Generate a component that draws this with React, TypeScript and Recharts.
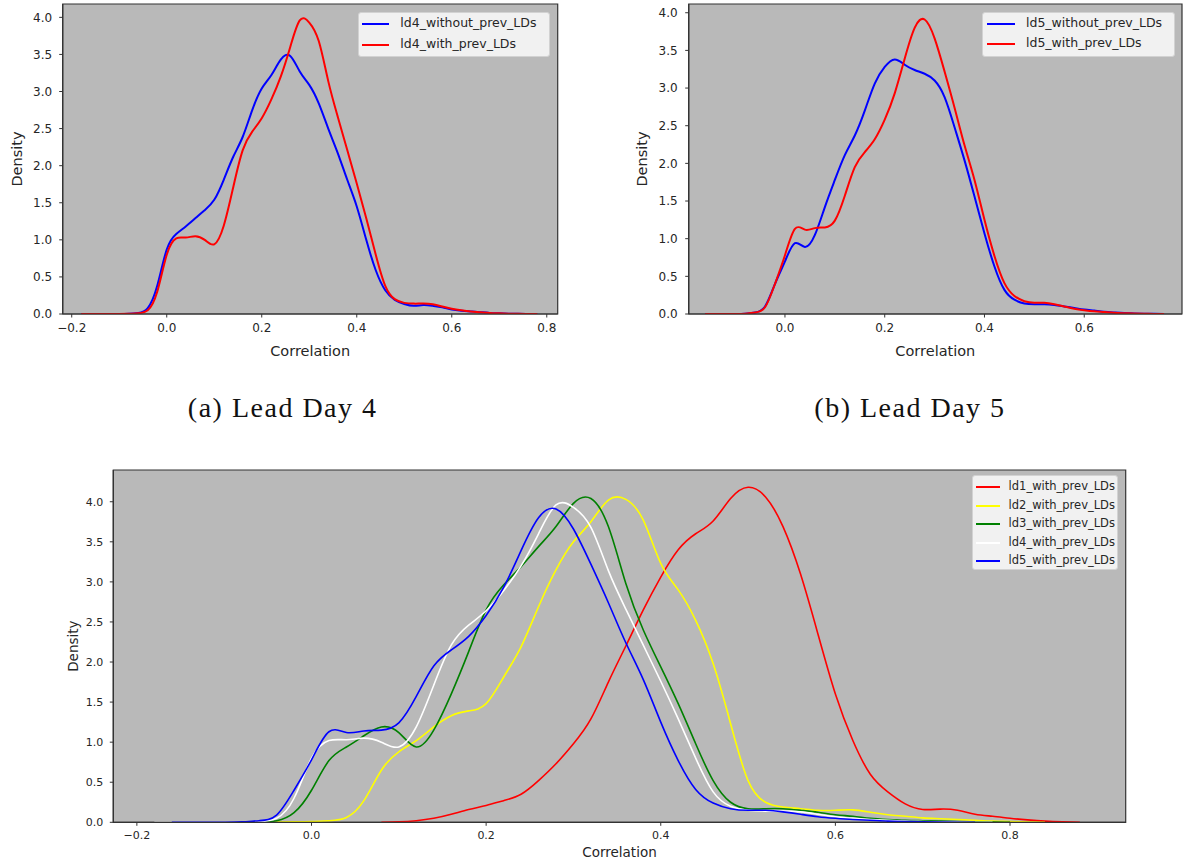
import { LineChart, Line, XAxis, YAxis, CartesianGrid, ReferenceArea, Legend } from "recharts";

// shared correlation grid (x values of the KDE curves)
const corr = [
	-0.18, -0.16, -0.14, -0.12, -0.1, -0.08, -0.06, -0.04, -0.02, 0.0, 0.02, 0.04, 0.06, 0.08, 0.1, 0.12, 0.14, 0.16,
	0.18, 0.2, 0.22, 0.24, 0.26, 0.28, 0.3, 0.32, 0.34, 0.36, 0.38, 0.4, 0.42, 0.44, 0.46, 0.48, 0.5, 0.52, 0.54, 0.56,
	0.58, 0.6, 0.62, 0.64, 0.66, 0.68, 0.7, 0.72, 0.74, 0.76, 0.78, 0.8, 0.82, 0.84, 0.86, 0.88,
];

const ld4Without = [
	0, 0, 0, 0, 0, 0.003, 0.015, 0.08, 0.38, 0.87, 1.08, 1.18, 1.29, 1.4, 1.54, 1.81, 2.12, 2.39,
	2.75, 3.04, 3.22, 3.43, 3.48, 3.27, 3.09, 2.84, 2.5, 2.17, 1.81, 1.45, 1.0, 0.59, 0.32, 0.19, 0.135, 0.11, 0.12, 0.11,
	0.09, 0.06, 0.045, 0.035, 0.025, 0.015, 0.01, 0.005, 0.002, 0.001, 0, null, null, null, null, null,
];
const ld4With = [
	0, 0, 0, 0, 0, 0.002, 0.01, 0.05, 0.3, 0.8, 1.02, 1.03, 1.05, 1.0, 0.94, 1.19, 1.71, 2.21,
	2.46, 2.64, 2.89, 3.2, 3.6, 3.96, 3.93, 3.68, 3.14, 2.66, 2.21, 1.76, 1.29, 0.8, 0.38, 0.2, 0.15, 0.14, 0.14, 0.13,
	0.1, 0.07, 0.05, 0.035, 0.025, 0.015, 0.01, 0.005, 0.002, 0.001, 0, null, null, null, null, null,
];
const ld5Without = [
	null, 0, 0, 0, 0.001, 0.005, 0.02, 0.1, 0.4, 0.7, 0.94, 0.89, 1.05, 1.42, 1.78, 2.11, 2.37, 2.7,
	3.06, 3.28, 3.38, 3.31, 3.24, 3.19, 3.1, 2.88, 2.48, 2.04, 1.56, 1.07, 0.63, 0.32, 0.19, 0.14, 0.13, 0.13, 0.12, 0.1,
	0.08, 0.06, 0.045, 0.03, 0.02, 0.012, 0.008, 0.004, 0.002, 0, null, null, null, null, null, null,
];
const ld5With = [
	null, 0, 0, 0, 0.001, 0.005, 0.02, 0.09, 0.4, 0.78, 1.13, 1.12, 1.14, 1.15, 1.24, 1.57, 1.95, 2.15,
	2.32, 2.58, 2.93, 3.39, 3.8, 3.91, 3.66, 3.22, 2.74, 2.24, 1.78, 1.25, 0.77, 0.41, 0.24, 0.17, 0.15, 0.15, 0.13, 0.1,
	0.07, 0.05, 0.035, 0.025, 0.015, 0.01, 0.006, 0.003, 0.001, 0, null, null, null, null, null, null,
];
const ld1With = [
	null, null, null, null, null, null, null, null, null, null, null, null, null, 0, 0.005, 0.02, 0.05, 0.1,
	0.16, 0.21, 0.27, 0.35, 0.52, 0.73, 0.98, 1.29, 1.75, 2.2, 2.65, 3.06, 3.4, 3.6, 3.76, 4.04, 4.18, 4.06, 3.69, 3.1,
	2.35, 1.6, 1.02, 0.6, 0.38, 0.23, 0.16, 0.165, 0.15, 0.1, 0.075, 0.05, 0.03, 0.015, 0.006, 0,
];
const ld2With = [
	null, null, null, null, null, null, 0, 0.002, 0.005, 0.01, 0.02, 0.06, 0.27, 0.65, 0.88, 1.02, 1.19, 1.33,
	1.39, 1.48, 1.81, 2.19, 2.69, 3.15, 3.5, 3.75, 4.02, 4.03, 3.77, 3.23, 2.9, 2.52, 1.98, 1.23, 0.52, 0.25, 0.19, 0.17,
	0.15, 0.15, 0.155, 0.125, 0.095, 0.075, 0.055, 0.045, 0.035, 0.025, 0.015, 0.01, 0.004, 0, null, null,
];
const ld3With = [
	null, null, null, null, null, 0, 0.005, 0.02, 0.12, 0.4, 0.77, 0.94, 1.08, 1.19, 1.12, 0.94, 1.15, 1.6,
	2.13, 2.65, 2.96, 3.19, 3.44, 3.69, 3.98, 4.04, 3.69, 2.98, 2.4, 1.94, 1.48, 0.98, 0.52, 0.25, 0.17, 0.17, 0.17, 0.15,
	0.125, 0.095, 0.075, 0.05, 0.035, 0.025, 0.02, 0.015, 0.01, 0.006, 0.003, 0, null, null, null, null,
];

const yTicks = [0, 0.5, 1, 1.5, 2, 2.5, 3, 3.5, 4];
const xTicksFull = [-0.2, 0, 0.2, 0.4, 0.6, 0.8];
const xTicksB = [0, 0.2, 0.4, 0.6];

const rows = corr.map((x, i) => ({
	x,
	ld4Without: ld4Without[i],
	ld4With: ld4With[i],
	ld5Without: ld5Without[i],
	ld5With: ld5With[i],
	ld1With: ld1With[i],
	ld2With: ld2With[i],
	ld3With: ld3With[i],
}));

const TEXT = "#262626";
const FRAME = "#333333";
const BG = "#b9b9b9";

const fmt = (v: number) => (v < 0 ? "\u2212" + Math.abs(v).toFixed(1) : v.toFixed(1));

type Series = { key: string; name: string; color: string };

type LegendCfg = {
	left: number;
	top: number;
	width: number;
	height: number;
	firstY: number;
	gap: number;
	handleLeft: number;
	handleLen: number;
	textGap: number;
	fontSize: number;
};

type PanelProps = {
	left: number;
	top: number;
	width: number;
	height: number;
	margin: { top: number; right: number; bottom: number; left: number };
	yWidth: number;
	xHeight: number;
	xDomain: [number, number];
	yMax: number;
	xTicks: number[];
	tickFont: number;
	labelFont: number;
	xTickMargin: number;
	yTickMargin: number;
	xLabelOffset: number;
	yLabelOffset: number;
	lineWidth: number;
	series: Series[];
	legend: LegendCfg;
};

// matplotlib-like legend box, rows kept in series order
const makeLegend = (cfg: LegendCfg, series: Series[]) => () => (
	<div
		style={{
			position: "relative",
			boxSizing: "border-box",
			width: cfg.width,
			height: cfg.height,
			background: "#f1f1f1",
			border: "1px solid #d2d2d2",
			borderRadius: 3,
		}}
	>
		{series.map((s, i) => (
			<div
				key={s.key}
				style={{
					position: "absolute",
					left: 0,
					top: Math.round(cfg.firstY + i * cfg.gap) - 10,
					height: 20,
					display: "flex",
					alignItems: "center",
				}}
			>
				<div style={{ marginLeft: cfg.handleLeft, width: cfg.handleLen, height: 2, background: s.color }} />
				<span style={{ marginLeft: cfg.textGap, fontSize: cfg.fontSize, color: TEXT, whiteSpace: "nowrap", lineHeight: 1 }}>
					{s.name}
				</span>
			</div>
		))}
	</div>
);

const Panel = (p: PanelProps) => {
	const tick = { fontSize: p.tickFont, fill: TEXT };
	return (
		<div style={{ position: "absolute", left: p.left, top: p.top }}>
			<LineChart width={p.width} height={p.height} data={rows} margin={p.margin}>
				<CartesianGrid horizontal={false} vertical={false} fill={BG} fillOpacity={1} />
				<XAxis
					dataKey='x'
					type='number'
					domain={p.xDomain}
					allowDataOverflow
					ticks={p.xTicks}
					tickFormatter={fmt}
					height={p.xHeight}
					tickSize={3.5}
					tickMargin={p.xTickMargin}
					tick={tick}
					axisLine={{ stroke: FRAME, strokeWidth: 1.2 }}
					tickLine={{ stroke: FRAME }}
					label={{ value: "Correlation", position: "insideBottom", offset: p.xLabelOffset, fontSize: p.labelFont, fill: TEXT }}
				/>
				<YAxis
					type='number'
					domain={[0, p.yMax]}
					allowDataOverflow
					ticks={yTicks}
					tickFormatter={fmt}
					width={p.yWidth}
					tickSize={3.5}
					tickMargin={p.yTickMargin}
					tick={tick}
					axisLine={{ stroke: FRAME, strokeWidth: 1.2 }}
					tickLine={{ stroke: FRAME }}
					label={{
						value: "Density",
						angle: -90,
						position: "insideLeft",
						offset: p.yLabelOffset,
						fontSize: p.labelFont,
						fill: TEXT,
						style: { textAnchor: "middle" },
					}}
				/>
				{p.series.map((s) => (
					<Line
						key={s.key}
						type='natural'
						dataKey={s.key}
						name={s.name}
						stroke={s.color}
						strokeWidth={p.lineWidth}
						dot={false}
						activeDot={false}
						isAnimationActive={false}
					/>
				))}
				<ReferenceArea
					x1={p.xDomain[0]}
					x2={p.xDomain[1]}
					y1={0}
					y2={p.yMax}
					fill='none'
					stroke={FRAME}
					strokeWidth={1.2}
				/>
				<Legend
					layout='vertical'
					align='center'
					verticalAlign='middle'
					content={makeLegend(p.legend, p.series)}
					wrapperStyle={{ left: p.legend.left, top: p.legend.top, width: p.legend.width, height: p.legend.height }}
				/>
			</LineChart>
		</div>
	);
};

const seriesA: Series[] = [
	{ key: "ld4Without", name: "ld4_without_prev_LDs", color: "#0000ff" },
	{ key: "ld4With", name: "ld4_with_prev_LDs", color: "#ff0000" },
];
const seriesB: Series[] = [
	{ key: "ld5Without", name: "ld5_without_prev_LDs", color: "#0000ff" },
	{ key: "ld5With", name: "ld5_with_prev_LDs", color: "#ff0000" },
];
const seriesC: Series[] = [
	{ key: "ld1With", name: "ld1_with_prev_LDs", color: "#ff0000" },
	{ key: "ld2With", name: "ld2_with_prev_LDs", color: "#ffff00" },
	{ key: "ld3With", name: "ld3_with_prev_LDs", color: "#008000" },
	{ key: "ld4With", name: "ld4_with_prev_LDs", color: "#ffffff" },
	{ key: "ld5With", name: "ld5_with_prev_LDs", color: "#0000ff" },
];

export default function App() {
	return (
		<div
			style={{
				position: "absolute",
				left: 0,
				top: 0,
				width: 1184,
				height: 864,
				background: "#ffffff",
				fontFamily: "'DejaVu Sans', sans-serif",
				overflow: "hidden",
			}}
		>
			<Panel
				left={0}
				top={0}
				width={570}
				height={370}
				margin={{ top: 4, right: 12.3, bottom: 0, left: 0 }}
				yWidth={62.7}
				xHeight={56}
				xDomain={[-0.219, 0.823]}
				yMax={4.18}
				xTicks={xTicksFull}
				tickFont={12}
				labelFont={14.5}
				xTickMargin={5.8}
				yTickMargin={7}
				xLabelOffset={14}
				yLabelOffset={16.5}
				lineWidth={2}
				series={seriesA}
				legend={{ left: 357.7, top: 11.7, width: 192.3, height: 45, firstY: 11, gap: 20.6, handleLeft: 3.6, handleLen: 27.2, textGap: 10.9, fontSize: 12.5 }}
			/>
			<Panel
				left={600}
				top={0}
				width={584}
				height={370}
				margin={{ top: 4, right: 2, bottom: 0, left: 0 }}
				yWidth={88.7}
				xHeight={56}
				xDomain={[-0.193, 0.796]}
				yMax={4.116}
				xTicks={xTicksB}
				tickFont={12}
				labelFont={14.5}
				xTickMargin={5.8}
				yTickMargin={7.5}
				xLabelOffset={14}
				yLabelOffset={41.8}
				lineWidth={2}
				series={seriesB}
				legend={{ left: 382, top: 11.7, width: 192.6, height: 45, firstY: 10.5, gap: 20.8, handleLeft: 4, handleLen: 28, textGap: 11, fontSize: 12.5 }}
			/>
			<svg width={1184} height={60} style={{ position: "absolute", left: 0, top: 380 }}>
				<text x={282.7} y={36.7} textAnchor='middle' fontFamily="'Liberation Serif', serif" fontSize={28} letterSpacing={1.5} fill='#111'>
					(a) Lead Day 4
				</text>
				<text x={910} y={36.7} textAnchor='middle' fontFamily="'Liberation Serif', serif" fontSize={28} letterSpacing={1.5} fill='#111'>
					(b) Lead Day 5
				</text>
			</svg>
			<Panel
				left={0}
				top={460}
				width={1184}
				height={404}
				margin={{ top: 10, right: 58.3, bottom: 0, left: 0 }}
				yWidth={113.3}
				xHeight={41.7}
				xDomain={[-0.227, 0.9325]}
				yMax={4.396}
				xTicks={xTicksFull}
				tickFont={11}
				labelFont={13.5}
				xTickMargin={4.9}
				yTickMargin={6.5}
				xLabelOffset={7}
				yLabelOffset={73.7}
				lineWidth={1.6}
				series={seriesC}
				legend={{ left: 971.6, top: 14.5, width: 146, height: 95.5, firstY: 11, gap: 18.5, handleLeft: 3, handleLen: 24, textGap: 9, fontSize: 11.5 }}
			/>
		</div>
	);
}
